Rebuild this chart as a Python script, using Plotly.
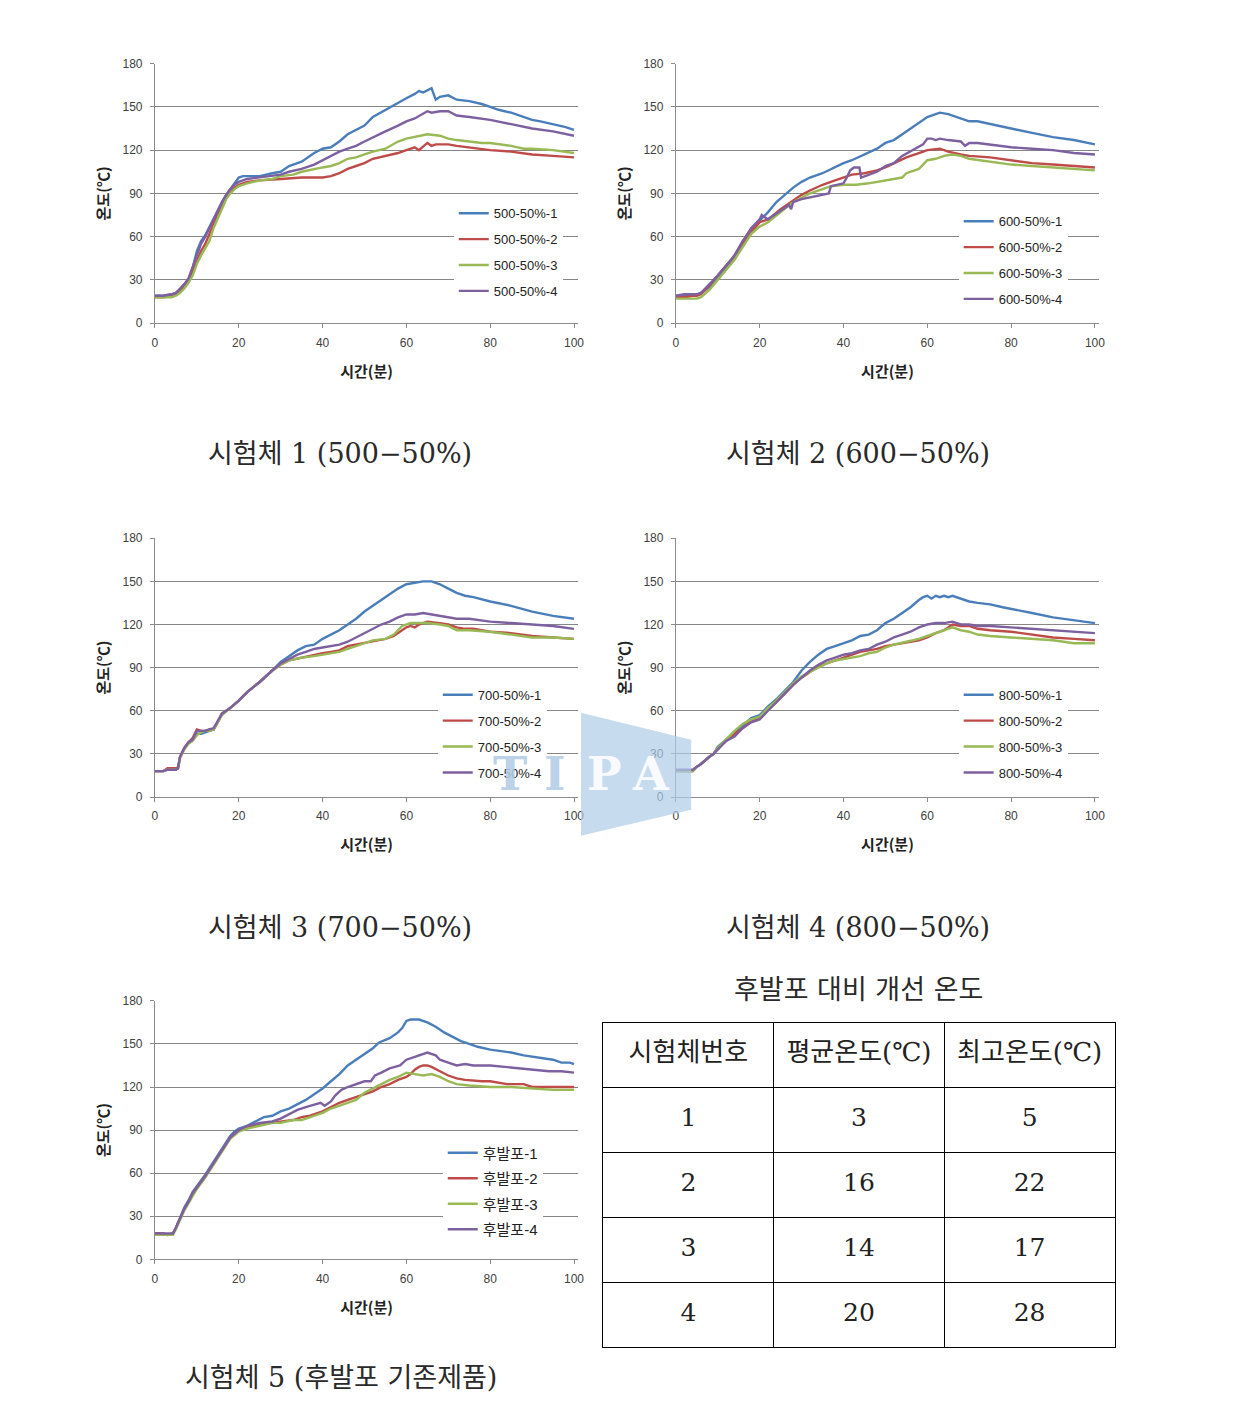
import plotly.graph_objects as go

W, H = 1239, 1420

# ---------------- data (time [min], temperature [°C]) ----------------
C1_NAMES = ["500-50%-1", "500-50%-2", "500-50%-3", "500-50%-4"]
C1_S1 = [(0,19),(2,19),(4,20),(5,21),(6,23),(7,27),(8,30),(9,38),(10,50),(11,57),(12,61),(13,67),(14,73),(15,79),(16,84),(17,89),(18,93),(19,97),(20,101),(21,102),(25,102),(28,104),(30,105),(32,109),(35,112),(38,118),(40,121),(42,122),(44,126),(46,131),(48,134),(50,137),(52,143),(55,148),(58,153),(60,156),(62,159),(63,161),(64,160),(66,163),(67,155),(68,157),(70,158),(72,155),(75,154),(78,152),(80,150),(82,148),(85,146),(88,143),(90,141),(92,140),(95,138),(98,136),(100,134)]
C1_S2 = [(0,18),(2,18),(4,19),(5,20),(6,22),(7,25),(8,29),(9,36),(10,44),(11,50),(12,55),(13,62),(14,70),(15,76),(16,82),(17,87),(18,91),(19,94),(20,96),(22,98),(25,99),(30,100),(35,101),(40,101),(42,102),(44,104),(46,107),(48,109),(50,111),(52,114),(55,116),(58,118),(60,120),(61,121),(62,122),(63,120),(65,125),(66,123),(67,124),(68,124),(70,124),(72,123),(75,122),(78,121),(80,120),(85,119),(90,117),(95,116),(100,115)]
C1_S3 = [(0,18),(2,18),(4,18),(5,19),(6,21),(7,24),(8,28),(9,33),(10,41),(11,47),(12,52),(13,57),(14,66),(15,73),(16,80),(17,86),(18,90),(19,93),(20,95),(22,97),(25,99),(28,100),(30,102),(33,103),(35,105),(38,107),(40,108),(42,109),(44,111),(46,114),(48,115),(50,117),(52,119),(55,121),(58,126),(60,128),(62,129),(65,131),(68,130),(70,128),(72,127),(75,126),(78,125),(80,125),(85,123),(88,121),(90,121),(95,120),(100,118)]
C1_S4 = [(0,19),(2,19),(4,20),(5,21),(6,24),(7,27),(8,31),(9,39),(10,48),(11,55),(12,60),(13,66),(14,73),(15,79),(16,84),(17,89),(18,93),(19,96),(20,98),(22,100),(25,101),(28,102),(30,103),(32,105),(35,107),(38,110),(40,113),(42,116),(44,119),(46,121),(48,123),(50,126),(52,129),(55,133),(58,137),(60,140),(62,142),(64,145),(65,147),(66,146),(68,147),(70,147),(72,144),(75,143),(78,142),(80,141),(85,138),(88,136),(90,135),(95,133),(100,130)]

C2_NAMES = ["600-50%-1", "600-50%-2", "600-50%-3", "600-50%-4"]
C2_S1 = [(0,19),(2,19),(4,20),(5,20),(6,21),(8,25),(10,31),(12,38),(14,47),(16,57),(18,64),(20,71),(22,77),(24,84),(26,89),(28,94),(30,98),(32,101),(35,104),(38,108),(40,111),(42,113),(45,117),(48,121),(50,125),(52,127),(55,133),(58,139),(60,143),(62,145),(63,146),(65,145),(68,142),(70,140),(72,140),(75,138),(78,136),(80,135),(85,132),(88,130),(90,129),(95,127),(100,124)]
C2_S2 = [(0,18),(2,18),(4,19),(5,19),(6,20),(8,26),(10,33),(12,40),(14,46),(16,55),(18,63),(20,70),(22,72),(25,79),(28,85),(30,89),(32,92),(35,96),(38,99),(40,101),(42,103),(45,104),(48,106),(50,108),(52,111),(55,115),(58,118),(60,120),(63,121),(65,119),(68,117),(70,116),(75,115),(80,113),(85,111),(90,110),(95,109),(100,108)]
C2_S3 = [(0,17),(2,17),(4,17),(5,17),(6,18),(8,23),(10,30),(12,37),(14,44),(16,53),(18,62),(20,67),(22,70),(25,77),(28,84),(30,87),(32,90),(35,93),(37,95),(40,96),(43,96),(46,97),(48,98),(50,99),(52,100),(54,101),(55,104),(57,106),(58,107),(59,110),(60,113),(62,114),(64,116),(66,117),(68,116),(70,114),(75,112),(80,110),(85,109),(90,108),(95,107),(100,106)]
C2_S4 = [(0,19),(2,20),(4,20),(5,20),(6,21),(8,27),(10,33),(12,40),(14,47),(16,57),(18,66),(20,72),(20.5,75),(21.5,73),(22,72),(24,76),(26,80),(27,82),(27.5,79),(28,84),(30,86),(33,88),(35,89),(36.5,90),(37,95),(40,97),(40.8,101),(41.6,106),(42.5,108),(43.8,108),(44.2,101),(46,103),(48,105),(50,109),(52,111),(54,116),(56,119),(58,122),(59,124),(60,128),(61,128),(62,127),(63,128),(65,127),(68,126),(69,123),(70,125),(72,125),(75,124),(80,122),(85,121),(90,120),(95,118),(100,117)]

C3_NAMES = ["700-50%-1", "700-50%-2", "700-50%-3", "700-50%-4"]
C3_S1 = [(0,18),(2,18),(3,19),(5,19),(5.5,21),(6,28),(7,34),(8,38),(9,40),(10,44),(11,44),(12,45),(13,46),(14,47),(15,52),(16,58),(18,62),(20,67),(22,73),(25,80),(28,88),(30,94),(32,98),(34,102),(36,105),(38,106),(40,110),(42,113),(44,116),(46,120),(48,124),(50,129),(52,133),(54,137),(56,141),(58,145),(60,148),(62,149),(64,150),(66,150),(68,148),(70,145),(72,142),(74,140),(76,139),(80,136),(85,133),(90,129),(95,126),(100,124)]
C3_S2 = [(0,18),(2,18),(3,20),(5,20),(5.5,20),(6,28),(7,34),(8,38),(9,41),(10,47),(11,46),(12,46),(13,47),(14,47),(15,52),(16,58),(18,62),(20,67),(22,73),(25,80),(28,88),(30,92),(32,95),(35,97),(38,99),(40,100),(42,101),(44,102),(46,105),(48,106),(50,107),(52,108),(55,110),(57,112),(60,118),(61,119),(62,118),(63,120),(65,122),(68,121),(70,120),(72,118),(74,117),(76,117),(80,115),(85,114),(90,112),(95,111),(100,110)]
C3_S3 = [(0,18),(2,18),(3,19),(5,19),(5.5,20),(6,27),(7,33),(8,37),(9,39),(10,43),(11,45),(12,46),(13,46),(14,47),(15,52),(16,57),(18,62),(20,67),(22,73),(25,80),(28,88),(30,92),(32,95),(35,97),(38,98),(40,99),(42,100),(44,101),(46,103),(48,105),(50,107),(52,109),(55,110),(57,113),(59,119),(61,121),(63,121),(65,121),(68,120),(70,119),(72,116),(75,116),(80,115),(85,113),(90,111),(95,111),(100,110)]
C3_S4 = [(0,18),(2,18),(3,19),(5,19),(5.5,20),(6,28),(7,34),(8,38),(9,40),(10,46),(11,46),(12,46),(13,47),(14,48),(15,53),(16,58),(18,62),(20,67),(22,73),(25,80),(28,88),(30,93),(32,96),(34,99),(36,101),(38,103),(40,104),(42,105),(44,106),(46,108),(48,111),(50,114),(52,117),(54,120),(56,122),(58,125),(60,127),(62,127),(64,128),(66,127),(68,126),(70,125),(72,124),(75,124),(80,122),(85,121),(90,120),(95,119),(100,117)]

C4_NAMES = ["800-50%-1", "800-50%-2", "800-50%-3", "800-50%-4"]
C4_S1 = [(0,18),(2,18),(4,18),(5,21),(6,23),(8,28),(9,30),(10,35),(12,40),(14,45),(16,50),(18,55),(20,57),(22,63),(24,68),(26,74),(28,80),(30,88),(32,94),(34,99),(36,103),(38,105),(40,107),(42,109),(44,112),(46,113),(48,116),(50,121),(52,124),(54,128),(56,132),(58,137),(59,139),(60,140),(61,138),(62,140),(63,139),(64,140),(65,139),(66,140),(68,138),(70,136),(72,135),(75,134),(78,132),(80,131),(85,128),(90,125),(95,123),(100,121)]
C4_S2 = [(0,18),(2,18),(4,18),(5,21),(6,23),(8,28),(9,30),(10,34),(12,39),(14,44),(16,48),(18,53),(20,55),(22,61),(24,66),(26,72),(28,78),(30,83),(32,87),(34,91),(36,93),(38,95),(40,97),(42,99),(44,101),(46,102),(48,103),(50,105),(52,106),(55,107),(58,109),(60,111),(62,114),(64,116),(66,120),(68,119),(70,119),(72,117),(75,116),(80,115),(85,113),(90,111),(95,110),(100,109)]
C4_S3 = [(0,18),(2,18),(4,18),(5,21),(6,23),(8,28),(9,30),(10,34),(12,40),(14,46),(16,51),(18,54),(20,56),(22,62),(24,67),(26,73),(28,79),(30,84),(32,87),(34,90),(36,93),(38,95),(40,96),(42,97),(44,98),(46,100),(48,101),(50,104),(52,106),(55,108),(58,110),(60,112),(62,114),(64,116),(66,118),(68,116),(70,115),(72,113),(75,112),(80,111),(85,110),(90,109),(95,107),(100,107)]
C4_S4 = [(0,19),(2,19),(4,19),(5,21),(6,23),(8,28),(9,30),(10,33),(12,39),(14,42),(16,48),(18,52),(20,54),(22,60),(24,66),(26,72),(28,78),(30,83),(32,88),(34,92),(36,95),(38,97),(40,99),(42,100),(44,102),(46,103),(48,106),(50,108),(52,111),(54,113),(56,115),(58,118),(60,120),(62,121),(64,121),(66,122),(68,120),(70,120),(72,119),(75,119),(80,118),(85,117),(90,116),(95,115),(100,114)]

C5_NAMES = ["후발포-1", "후발포-2", "후발포-3", "후발포-4"]
C5_S1 = [(0,18),(2,18),(3,17),(4.3,18),(5,22),(6,29),(7,36),(8,41),(9,47),(10,51),(12,59),(14,68),(16,77),(18,86),(19,89),(20,91),(22,93),(24,96),(26,99),(28,100),(30,103),(32,105),(34,108),(36,111),(38,115),(40,119),(42,124),(44,129),(46,135),(48,139),(50,143),(52,147),(53.5,151),(56,154),(58,158),(59,161),(60,166),(61,167),(62,167),(63,167),(65,165),(67,162),(69,158),(71,155),(73,152),(75,150),(77,148),(80,146),(83,145),(85,144),(88,142),(90,141),(93,140),(95,139),(97,137),(99,137),(100,136)]
C5_S2 = [(0,18),(2,18),(3,17),(4.3,18),(5,22),(6,29),(7,35),(8,40),(9,46),(10,50),(12,58),(14,67),(16,76),(18,85),(20,90),(22,92),(25,94),(28,95),(30,96),(33,97),(35,99),(37,100),(40,103),(42,106),(44,109),(46,111),(48,113),(50,115),(52,117),(54,120),(56,122),(58,125),(60,127),(61,129),(62,132),(63,134),(64,135),(65,135),(66,134),(68,131),(70,128),(72,126),(74,125),(78,124),(80,124),(84,122),(88,122),(90,120),(95,120),(100,120)]
C5_S3 = [(0,17),(2,17),(3,17),(4.3,17),(5,21),(6,28),(7,34),(8,39),(9,44),(10,49),(12,57),(14,66),(16,75),(18,84),(20,89),(22,91),(25,93),(28,95),(30,95),(33,97),(35,97),(37,99),(40,102),(42,105),(44,107),(46,109),(48,111),(50,116),(52,119),(54,122),(56,125),(58,127),(60,130),(62,129),(64,128),(66,129),(68,127),(70,124),(72,122),(75,121),(80,120),(85,120),(90,119),(95,118),(100,118)]
C5_S4 = [(0,18),(2,18),(3,18),(4.3,18),(5,22),(6,29),(7,35),(8,40),(9,46),(10,50),(12,58),(14,67),(16,76),(18,85),(20,90),(22,93),(25,95),(28,96),(30,98),(32,101),(34,104),(36,106),(38,108),(39.5,109),(40.5,107),(42,110),(43,114),(44.5,118),(46,120),(48,122),(50,124),(51.5,124),(52.5,128),(54,130),(56,133),(58.5,135),(60,139),(62,141),(64,143),(65,144),(67,142),(68,139),(70,137),(72,135),(74,136),(76,135),(80,135),(84,134),(88,133),(90,132),(94,131),(97,131),(100,130)]

CAPTIONS = ["시험체 1 (500−50%)", "시험체 2 (600−50%)", "시험체 3 (700−50%)",
            "시험체 4 (800−50%)", "시험체 5 (후발포 기존제품)"]
X_TITLE = "시간(분)"
Y_TITLE = "온도(℃)"
Y_TICKS = [0, 30, 60, 90, 120, 150, 180]
X_TICKS = [0, 20, 40, 60, 80, 100]

TABLE_TITLE = "후발포 대비 개선 온도"
TABLE_HEADER = ["시험체번호", "평균온도(℃)", "최고온도(℃)"]
TABLE_NO = ["1", "2", "3", "4"]
TABLE_AVG = ["3", "16", "14", "20"]
TABLE_MAX = ["5", "22", "17", "28"]

WATERMARK = "TIPA"

COLORS = ["#4A7EBB", "#BE4B48", "#98B954", "#7D60A0"]

# calibration of target-pixel positions to page coordinates
SC, OX, OY = 0.991, 12.0, 14.6


def px(x):
    return ((x - OX) / SC) / W


def py(y):
    return 1 - ((y - OY) / SC) / H


# panel layout in target pixels: plot area left/right/top/bottom; legend top-left; caption centre
PANELS = [
    dict(series=[C1_S1, C1_S2, C1_S3, C1_S4], names=C1_NAMES, l=155.7, r=578.2, t=63.3, b=323.0,
         leg=(454, 198), legfont=13, gap=6, cap=(340, 453)),
    dict(series=[C2_S1, C2_S2, C2_S3, C2_S4], names=C2_NAMES, l=675.7, r=1098.2, t=63.3, b=323.0,
         leg=(958, 206), legfont=13, gap=6, cap=(858, 453)),
    dict(series=[C3_S1, C3_S2, C3_S3, C3_S4], names=C3_NAMES, l=155.7, r=578.2, t=538.3, b=797.3,
         leg=(438, 680), legfont=13, gap=6, cap=(340, 928)),
    dict(series=[C4_S1, C4_S2, C4_S3, C4_S4], names=C4_NAMES, l=675.7, r=1098.2, t=538.3, b=797.3,
         leg=(958, 680), legfont=13, gap=6, cap=(858, 928)),
    dict(series=[C5_S1, C5_S2, C5_S3, C5_S4], names=C5_NAMES, l=155.7, r=578.2, t=1001.3, b=1260.0,
         leg=(443, 1137), legfont=15, gap=3, cap=(341, 1378)),
]

fig = go.Figure()
layout = dict(
    width=W, height=H, margin=dict(l=0, r=0, t=0, b=0),
    paper_bgcolor="white", plot_bgcolor="white", showlegend=True,
    annotations=[], shapes=[],
)

TICKFONT = dict(family="Liberation Sans, Noto Sans CJK KR", size=12, color="#404040")
TITLEFONT = dict(family="Noto Sans CJK KR", size=15, color="#222222", weight="bold")
CAPFONT = dict(family="DejaVu Serif, Noto Sans CJK KR", size=27, color="#2a2a2a")

for i, p in enumerate(PANELS, start=1):
    xa = "x" if i == 1 else f"x{i}"
    ya = "y" if i == 1 else f"y{i}"
    lg = "legend" if i == 1 else f"legend{i}"
    for j, (ser, name) in enumerate(zip(p["series"], p["names"])):
        fig.add_trace(go.Scatter(
            x=[a for a, _ in ser], y=[b for _, b in ser], mode="lines", name=name,
            line=dict(color=COLORS[j], width=2.4), xaxis=xa, yaxis=ya,
            legend=lg, legendgroup=f"g{i}_{j}", hoverinfo="skip",
        ))
    layout["xaxis" if i == 1 else f"xaxis{i}"] = dict(
        domain=[px(p["l"]), px(p["r"])], range=[0, 101], anchor=ya,
        tickvals=X_TICKS, ticks="outside", ticklen=4, tickcolor="#8c8c8c",
        ticklabelstandoff=4,
        showline=True, linecolor="#8c8c8c", linewidth=1, showgrid=False, zeroline=False,
        tickfont=TICKFONT, title=dict(text=X_TITLE, font=TITLEFONT, standoff=17),
    )
    layout["yaxis" if i == 1 else f"yaxis{i}"] = dict(
        domain=[py(p["b"]), py(p["t"])], range=[0, 180], anchor=xa,
        tickvals=Y_TICKS, ticks="outside", ticklen=4, tickcolor="#8c8c8c",
        ticklabelstandoff=5,
        showline=True, linecolor="#8c8c8c", linewidth=1, showgrid=True,
        gridcolor="#868686", gridwidth=1, zeroline=False,
        tickfont=TICKFONT, title=dict(text=Y_TITLE, font=TITLEFONT, standoff=9),
    )
    lx, ly = p["leg"]
    layout[lg] = dict(
        x=px(lx), y=py(ly), xanchor="left", yanchor="top", bgcolor="white",
        borderwidth=0,
        font=dict(family="Liberation Sans, Noto Sans CJK KR", size=p["legfont"], color="#222222"),
        traceorder="grouped", tracegroupgap=p["gap"], itemclick=False, itemdoubleclick=False,
    )
    cx, cy = p["cap"]
    layout["annotations"].append(dict(
        text=CAPTIONS[i - 1], x=px(cx), y=py(cy), xref="paper", yref="paper",
        showarrow=False, xanchor="center", yanchor="middle", font=CAPFONT,
    ))

# ---------------- table ----------------
TL, TR, TT, TB = 603, 1114, 1023, 1348
n_rows = 1 + len(TABLE_NO)
layout["xaxis6"] = dict(domain=[px(TL), px(TR)], range=[0, 3], anchor="y6",
                        tickvals=[0, 1, 2, 3], showticklabels=False, ticks="",
                        showgrid=True, gridcolor="black", gridwidth=1.3, zeroline=False,
                        showline=True, mirror=True, linecolor="black", linewidth=1.3, fixedrange=True)
layout["yaxis6"] = dict(domain=[py(TB), py(TT)], range=[n_rows, 0], anchor="x6",
                        tickvals=list(range(n_rows + 1)), showticklabels=False, ticks="",
                        showgrid=True, gridcolor="black", gridwidth=1.3, zeroline=False,
                        showline=True, mirror=True, linecolor="black", linewidth=1.3, fixedrange=True)

fig.add_trace(go.Scatter(
    x=[c + 0.5 for c in range(3)], y=[0.5] * 3, text=TABLE_HEADER, mode="text",
    textfont=dict(family="DejaVu Serif, Noto Sans CJK KR", size=26, color="#222222"),
    xaxis="x6", yaxis="y6", showlegend=False, hoverinfo="skip",
))
body_x, body_y, body_t = [], [], []
for r, row in enumerate(zip(TABLE_NO, TABLE_AVG, TABLE_MAX), start=1):
    for c, val in enumerate(row):
        body_x.append(c + 0.5)
        body_y.append(r + 0.5)
        body_t.append(val)
fig.add_trace(go.Scatter(
    x=body_x, y=body_y, text=body_t, mode="text",
    textfont=dict(family="DejaVu Serif", size=25, color="#222222"),
    xaxis="x6", yaxis="y6", showlegend=False, hoverinfo="skip",
))
layout["annotations"].append(dict(
    text=TABLE_TITLE, x=px(858), y=py(990), xref="paper", yref="paper",
    showarrow=False, xanchor="center", yanchor="middle", font=CAPFONT,
))

# ---------------- watermark ----------------
poly = [(581, 713), (691, 740), (691, 810), (581, 836)]
path = "M " + " L ".join(f"{px(a):.5f},{py(b):.5f}" for a, b in poly) + " Z"
layout["shapes"].append(dict(type="path", path=path, xref="paper", yref="paper",
                             fillcolor="rgba(175,204,232,0.7)", line=dict(width=0), layer="above"))
letter_x = [510, 555, 604, 651]
letter_col = ["rgba(178,204,229,0.9)", "rgba(178,204,229,0.9)",
              "rgba(255,255,255,0.9)", "rgba(255,255,255,0.9)"]
for ch, lx, col in zip(WATERMARK, letter_x, letter_col):
    layout["annotations"].append(dict(
        text=ch, x=px(lx), y=py(774), xref="paper", yref="paper", showarrow=False,
        xanchor="center", yanchor="middle",
        font=dict(family="DejaVu Serif", size=46, color=col, weight="bold")))

fig.update_layout(**layout)
fig.write_html("out.html")
